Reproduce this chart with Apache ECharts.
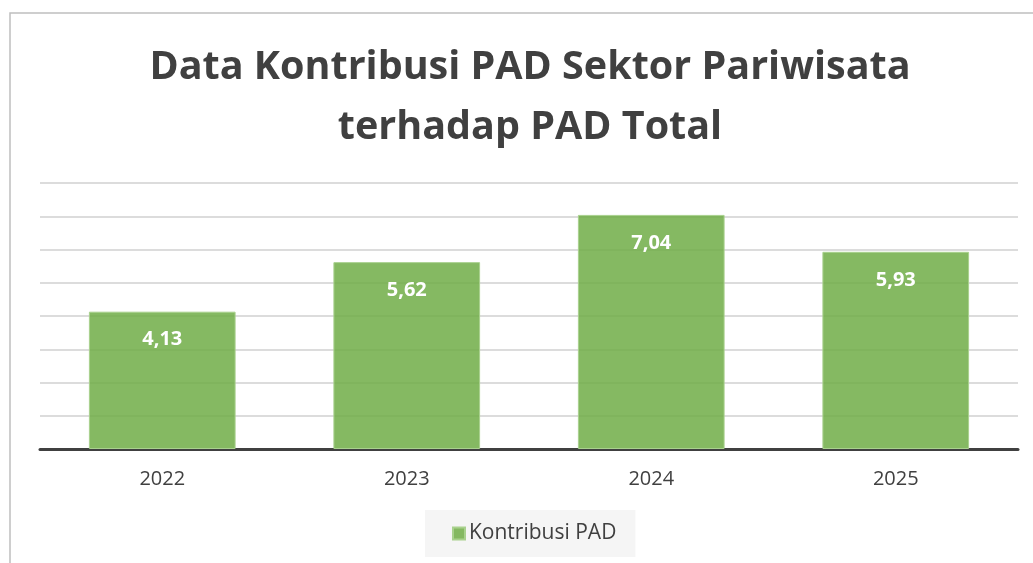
<!DOCTYPE html>
<html>
<head>
<meta charset="utf-8">
<script src="https://cdn.jsdelivr.net/npm/echarts@6/dist/echarts.min.js"></script>
<style>
  html, body { margin: 0; padding: 0; background: #fff; }
  #myChart { width: 1033px; height: 563px; }
</style>
</head>
<body>
<div id="myChart"></div>
<script>
var titleText = "Data Kontribusi PAD Sektor Pariwisata\nterhadap PAD Total";
var years = ["2022", "2023", "2024", "2025"];
var kontribusi = [4.13, 5.62, 7.04, 5.93];
var seriesName = "Kontribusi PAD";

var myChart = echarts.init(document.getElementById("myChart"));
myChart.setOption({
  animation: false,
  textStyle: { fontFamily: "Open Sans" },
  graphic: [
    {
      // chart frame
      type: "rect",
      z: -10,
      shape: { x: 10, y: 13, width: 1200, height: 700 },
      style: { fill: "#fff", stroke: "#bfbfbf", lineWidth: 1.5 }
    }
  ],
  title: {
    text: titleText,
    left: 525,
    top: 33,
    textAlign: "center",
    textStyle: {
      fontFamily: "Open Sans",
      fontWeight: "bold",
      fontSize: 39.5,
      lineHeight: 60,
      color: "#404040"
    }
  },
  legend: {
    data: [seriesName],
    left: 425,
    top: 510,
    itemWidth: 12,
    itemHeight: 12,
    itemGap: 6,
    icon: "rect",
    padding: [13, 19, 13, 27],
    backgroundColor: "#f5f5f5",
    textStyle: { fontFamily: "Open Sans", fontSize: 21, color: "#404040", padding: [2, 0, 0, -1] }
  },
  grid: {
    left: 40,
    right: 15,
    top: 183,
    bottom: 114
  },
  xAxis: {
    type: "category",
    data: years,
    axisLine: { lineStyle: { color: "#404040", width: 3 } },
    axisTick: { show: false },
    axisLabel: { fontFamily: "Open Sans", fontSize: 20, color: "#404040", margin: 20 }
  },
  yAxis: {
    type: "value",
    min: 0,
    max: 8,
    interval: 1,
    axisLabel: { show: false },
    axisLine: { show: false },
    axisTick: { show: false },
    splitLine: { lineStyle: { color: "#d0d0d0", width: 1.5 } }
  },
  series: [
    {
      name: seriesName,
      type: "bar",
      data: kontribusi,
      barWidth: "60%",
      itemStyle: {
        color: "rgba(112,173,71,0.85)",
        borderColor: "#a9d18e",
        borderWidth: 1
      },
      label: {
        show: true,
        position: "insideTop",
        distance: 18,
        fontFamily: "Open Sans",
        fontWeight: "bold",
        fontSize: 20,
        color: "#fff",
        formatter: function (p) { return p.value.toFixed(2).replace(".", ","); }
      }
    }
  ]
});
</script>
</body>
</html>
